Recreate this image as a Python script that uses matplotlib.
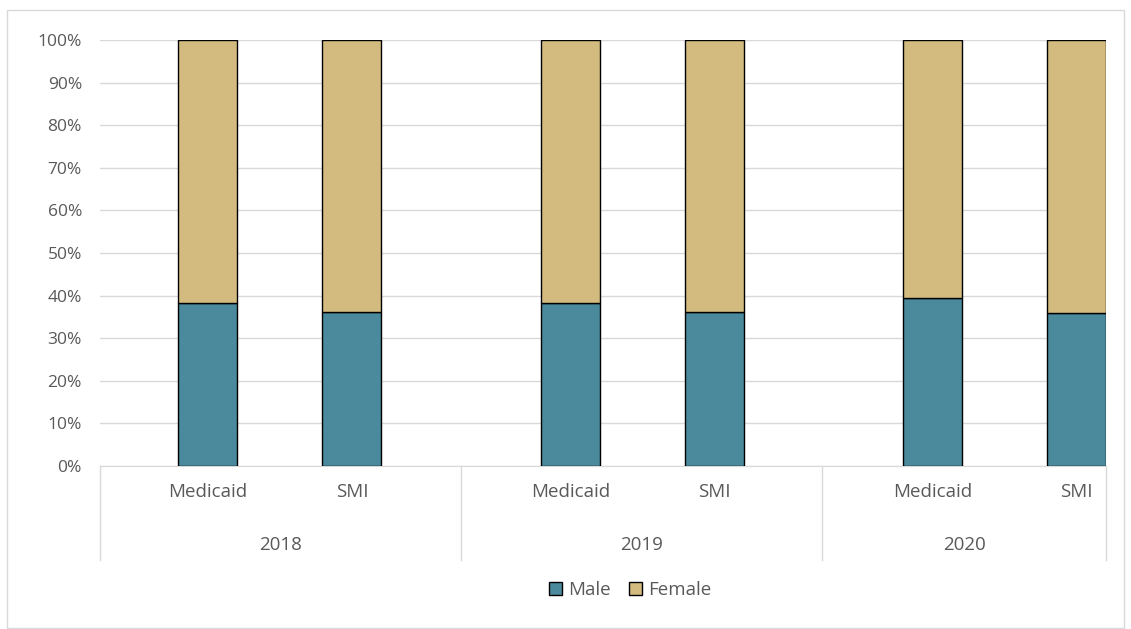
import matplotlib
matplotlib.use("Agg")
import matplotlib.pyplot as plt
from matplotlib.patches import Rectangle, Patch
from matplotlib.ticker import PercentFormatter
import matplotlib.transforms as mtransforms

plt.rcParams['font.family'] = ['Open Sans', 'DejaVu Sans']

# data (percent of members)
years = ['2018', '2019', '2020']
groups = ['Medicaid', 'SMI', 'Medicaid', 'SMI', 'Medicaid', 'SMI']
male = [38.3, 36.2, 38.3, 36.2, 39.5, 35.9]
female = [100 - m for m in male]

# bar positions, with a wider gap between the year groups
xpos = [0, 1, 2.52, 3.52, 5.035, 6.035]
group_edges = [-0.75, 1.76, 4.27, 6.24]

male_color = '#4A8A9C'
female_color = '#D3BB80'
text_color = '#595959'
grid_color = '#D9D9D9'

fig = plt.figure(figsize=(11.31, 6.29), dpi=100)
ax = fig.add_axes([100 / 1131, 1 - 466 / 629, 1006 / 1131, 426 / 629])

bar_w = 0.41
ax.bar(xpos, male, width=bar_w, color=male_color, edgecolor='black', linewidth=1, zorder=3)
ax.bar(xpos, female, width=bar_w, bottom=male, color=female_color, edgecolor='black',
       linewidth=1, zorder=3)

ax.set_ylim(0, 100)
ax.set_xlim(group_edges[0], group_edges[-1])
ax.set_yticks(range(0, 101, 10))
ax.yaxis.set_major_formatter(PercentFormatter(decimals=0))
ax.grid(axis='y', color=grid_color, linewidth=1, zorder=0)
ax.set_axisbelow(True)

for s in ['top', 'right', 'left']:
    ax.spines[s].set_visible(False)
ax.spines['bottom'].set_color(grid_color)

ax.tick_params(axis='y', length=0, pad=13, labelsize=12.5, labelcolor=text_color)
ax.set_xticks(xpos)
ax.set_xticklabels(groups)
ax.tick_params(axis='x', length=0, pad=12, labelsize=13.5, labelcolor=text_color)

# year labels and group separators below the axis
trans = mtransforms.blended_transform_factory(ax.transData, ax.transAxes)
for i, yr in enumerate(years):
    mid = (group_edges[i] + group_edges[i + 1]) / 2
    ax.text(mid, -0.185, yr, transform=trans, ha='center', va='center',
            fontsize=13.5, color=text_color)
for e in group_edges:
    ax.plot([e, e], [0, -0.221], transform=trans, color=grid_color, linewidth=1,
            clip_on=False)

handles = [Patch(facecolor=male_color, edgecolor='black', label='Male'),
           Patch(facecolor=female_color, edgecolor='black', label='Female')]
fig.legend(handles=handles, loc='center', bbox_to_anchor=(630 / 1131, 1 - 590 / 629),
           ncol=2, frameon=False, fontsize=13.5, handlelength=0.7, handleheight=0.7,
           handletextpad=0.3, columnspacing=1.0, labelcolor=text_color)

# outer chart border
fig.patches.append(Rectangle((7 / 1131, 1 - 628 / 629), 1117 / 1131, 618 / 629,
                             transform=fig.transFigure, fill=False,
                             edgecolor=grid_color, linewidth=1))

fig.savefig('out.png', dpi=100)
